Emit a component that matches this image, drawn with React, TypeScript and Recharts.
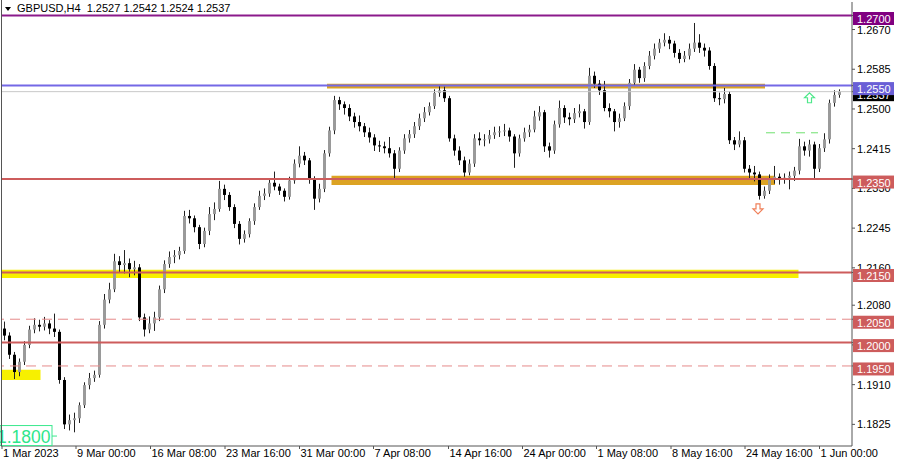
import React from 'react';
import {
  ComposedChart,
  Bar,
  XAxis,
  YAxis,
  ReferenceLine,
  ReferenceArea,
  ReferenceDot,
} from 'recharts';

// GBPUSD H4, one candle here ~ two H4 bars (open = previous close)
const firstOpen = 1.203;

const closes = [
  1.2015, 1.1974, 1.1937, 1.1959, 1.1995, 1.2028, 1.2038, 1.2034, 1.2041, 1.2030,
  1.2023, 1.1920, 1.1825, 1.1834, 1.1838, 1.1866, 1.1909, 1.1924, 1.1931, 1.2038,
  1.2092, 1.2114, 1.2174, 1.2166, 1.2170, 1.2157, 1.2161, 1.2054, 1.2028, 1.2041,
  1.2054, 1.2114, 1.2168, 1.2183, 1.2187, 1.2196, 1.2271, 1.2266, 1.2247, 1.2211,
  1.2239, 1.2275, 1.2286, 1.2329, 1.2316, 1.2290, 1.2254, 1.2222, 1.2232, 1.2260,
  1.2290, 1.2314, 1.2319, 1.2342, 1.2334, 1.2325, 1.2312, 1.2347, 1.2383, 1.2400,
  1.2390, 1.2351, 1.2308, 1.2329, 1.2405, 1.2454, 1.2519, 1.2510, 1.2502, 1.2484,
  1.2472, 1.2463, 1.2450, 1.2439, 1.2422, 1.2420, 1.2416, 1.2405, 1.2372, 1.2411,
  1.2437, 1.2446, 1.2463, 1.2480, 1.2493, 1.2506, 1.2534, 1.2540, 1.2523, 1.2437,
  1.2411, 1.2390, 1.2364, 1.2383, 1.2437, 1.2433, 1.2435, 1.2444, 1.2450, 1.2452,
  1.2454, 1.2441, 1.2405, 1.2437, 1.2450, 1.2456, 1.2484, 1.2493, 1.2420, 1.2411,
  1.2467, 1.2502, 1.2482, 1.2478, 1.2491, 1.2495, 1.2472, 1.2571, 1.2554, 1.2540,
  1.2502, 1.2495, 1.2472, 1.2480, 1.2506, 1.2556, 1.2584, 1.2566, 1.2592, 1.2614,
  1.2629, 1.2642, 1.2648, 1.2640, 1.2620, 1.2607, 1.2614, 1.2629, 1.2642, 1.2631,
  1.2625, 1.2592, 1.2523, 1.2521, 1.2532, 1.2433, 1.2424, 1.2433, 1.2372, 1.2364,
  1.2360, 1.2314, 1.2325, 1.2351, 1.2355, 1.2349, 1.2353, 1.2357, 1.2368, 1.2420,
  1.2411, 1.2424, 1.2372, 1.2416, 1.2435, 1.2513, 1.2530, 1.2537,
];

const highs = [
  1.2045, 1.2022, 1.1980, 1.1966, 1.2003, 1.2036, 1.2052, 1.2049, 1.2055, 1.2048,
  1.2062, 1.2028, 1.1926, 1.1846, 1.1850, 1.1872, 1.1915, 1.1935, 1.1940, 1.2046,
  1.2104, 1.2128, 1.2190, 1.2185, 1.2198, 1.2180, 1.2175, 1.2168, 1.2062, 1.2056,
  1.2066, 1.2122, 1.2176, 1.2195, 1.2198, 1.2205, 1.2282, 1.2284, 1.2272, 1.2252,
  1.2246, 1.2290, 1.2300, 1.2346, 1.2338, 1.2322, 1.2296, 1.2260, 1.2240, 1.2266,
  1.2298, 1.2325, 1.2330, 1.2352, 1.2366, 1.2340, 1.2330, 1.2355, 1.2392, 1.2420,
  1.2408, 1.2395, 1.2356, 1.2340, 1.2412, 1.2462, 1.2528, 1.2526, 1.2516, 1.2510,
  1.2492, 1.2486, 1.2470, 1.2460, 1.2446, 1.2432, 1.2430, 1.2440, 1.2412, 1.2418,
  1.2446, 1.2455, 1.2472, 1.2490, 1.2504, 1.2514, 1.2542, 1.2550, 1.2548, 1.2528,
  1.2445, 1.2420, 1.2398, 1.2392, 1.2446, 1.2450, 1.2446, 1.2455, 1.2462, 1.2463,
  1.2468, 1.2460, 1.2446, 1.2445, 1.2460, 1.2466, 1.2496, 1.2506, 1.2498, 1.2428,
  1.2475, 1.2518, 1.2508, 1.2492, 1.2502, 1.2510, 1.2500, 1.2588, 1.2580, 1.2562,
  1.2560, 1.2512, 1.2500, 1.2490, 1.2514, 1.2564, 1.2596, 1.2590, 1.2600, 1.2624,
  1.2640, 1.2650, 1.2662, 1.2656, 1.2646, 1.2628, 1.2624, 1.2640, 1.2684, 1.2660,
  1.2640, 1.2632, 1.2598, 1.2535, 1.2545, 1.2538, 1.2440, 1.2452, 1.2440, 1.2380,
  1.2378, 1.2366, 1.2334, 1.2360, 1.2378, 1.2362, 1.2362, 1.2366, 1.2376, 1.2436,
  1.2430, 1.2434, 1.2430, 1.2425, 1.2448, 1.2520, 1.2540, 1.2542,
];

const lows = [
  1.2005, 1.1965, 1.1922, 1.1928, 1.1952, 1.1988, 1.2020, 1.2024, 1.2026, 1.2018,
  1.2012, 1.1912, 1.1815, 1.1812, 1.1808, 1.1828, 1.1860, 1.1900, 1.1916, 1.1925,
  1.2030, 1.2084, 1.2108, 1.2150, 1.2148, 1.2140, 1.2144, 1.2046, 1.2013, 1.2020,
  1.2025, 1.2046, 1.2106, 1.2160, 1.2170, 1.2178, 1.2190, 1.2255, 1.2236, 1.2200,
  1.2204, 1.2230, 1.2262, 1.2280, 1.2305, 1.2282, 1.2245, 1.2210, 1.2214, 1.2225,
  1.2252, 1.2284, 1.2305, 1.2312, 1.2326, 1.2316, 1.2302, 1.2306, 1.2340, 1.2375,
  1.2380, 1.2340, 1.2284, 1.2300, 1.2322, 1.2398, 1.2446, 1.2498, 1.2488, 1.2474,
  1.2460, 1.2452, 1.2440, 1.2428, 1.2410, 1.2408, 1.2405, 1.2396, 1.2352, 1.2365,
  1.2404, 1.2428, 1.2438, 1.2455, 1.2472, 1.2486, 1.2500, 1.2526, 1.2515, 1.2430,
  1.2400, 1.2380, 1.2355, 1.2358, 1.2376, 1.2422, 1.2420, 1.2426, 1.2436, 1.2440,
  1.2442, 1.2430, 1.2374, 1.2398, 1.2430, 1.2440, 1.2450, 1.2475, 1.2408, 1.2396,
  1.2404, 1.2460, 1.2470, 1.2465, 1.2470, 1.2482, 1.2458, 1.2466, 1.2545, 1.2530,
  1.2495, 1.2482, 1.2452, 1.2460, 1.2474, 1.2498, 1.2550, 1.2556, 1.2558, 1.2585,
  1.2606, 1.2620, 1.2634, 1.2628, 1.2610, 1.2598, 1.2600, 1.2606, 1.2622, 1.2620,
  1.2612, 1.2584, 1.2515, 1.2508, 1.2512, 1.2425, 1.2412, 1.2418, 1.2364, 1.2352,
  1.2345, 1.2306, 1.2308, 1.2318, 1.2340, 1.2338, 1.2340, 1.2328, 1.2346, 1.2360,
  1.2400, 1.2398, 1.2348, 1.2365, 1.2408, 1.2426, 1.2505, 1.2524,
];

// time axis: label position in candle index units
const dateTicks = [-0.4, 14.4, 29.3, 44.2, 59.1, 73.9, 88.9, 103.7, 118.5, 133.4, 148.2, 163.1];
const dateLabels = [
  '1 Mar 2023', '9 Mar 00:00', '16 Mar 08:00', '23 Mar 16:00', '31 Mar 00:00', '7 Apr 08:00',
  '14 Apr 16:00', '24 Apr 00:00', '1 May 08:00', '8 May 16:00', '24 May 16:00', '1 Jun 00:00',
];
const priceTicks = [1.267, 1.2585, 1.25, 1.2415, 1.233, 1.2245, 1.216, 1.208, 1.1995, 1.191, 1.1825];

// horizontal levels drawn on the chart (tags sit on the price scale)
const levelPrices = [1.27, 1.2537, 1.255, 1.235, 1.215, 1.205, 1.2, 1.195];
const levelColors = ['#8b1a8b', '#c8c8c8', '#7468e6', '#cd5c5c', '#cd5c5c', '#e58a8a', '#cd5c5c', '#e58a8a'];
const levelTagColors = ['#800080', '#000000', '#6a5fd6', '#cd5c5c', '#cd5c5c', '#cd5c5c', '#cd5c5c', '#cd5c5c'];
const levelWidths = [2, 1, 2, 2, 2, 1, 2, 1];
const levelDashed = [false, false, false, false, false, true, false, true];

// zones [fromIdx, toIdx, lowPrice, highPrice]
const zoneBounds = [
  [64.6, 152.2, 1.2544, 1.2554],
  [65.5, 154.2, 1.2337, 1.2357],
  [-0.6, 158.9, 1.2138, 1.2156],
  [-0.6, 7.3, 1.192, 1.1942],
];
const zoneColors = ['#dca323', '#dca323', '#f7f000', '#f7f000'];

const FONT = '"Liberation Sans", Arial, sans-serif';

const data = closes.map((c, i) => ({
  t: i,
  open: i === 0 ? firstOpen : closes[i - 1],
  close: c,
  high: highs[i],
  low: lows[i],
  range: [lows[i], highs[i]],
}));

const Candle = (props: any) => {
  const { x, y, width, height, payload } = props;
  if (x == null || y == null) return null;
  const { open, close, high, low } = payload;
  const top = Math.min(y, y + height);
  const h = Math.abs(height);
  const k = high === low ? 0 : h / (high - low);
  const yO = top + (high - open) * k;
  const yC = top + (high - close) * k;
  const cx = Math.round(x + width / 2);
  const up = close >= open;
  const bt = Math.min(yO, yC);
  const bh = Math.max(1, Math.abs(yC - yO));
  return (
    <g>
      <line x1={cx + 0.5} x2={cx + 0.5} y1={top} y2={top + h} stroke="#222" strokeWidth={1} />
      <rect x={cx - 1} y={bt} width={3} height={bh} fill={up ? '#9a9a9a' : '#000'} />
    </g>
  );
};

const DateTick = (props: any) => {
  const { x, y, index } = props;
  return (
    <text x={x + 1} y={y + 6} fontSize={11} fontFamily={FONT} fill="#000" textAnchor="start">
      {dateLabels[index]}
    </text>
  );
};

// plain price labels first, then the coloured level tags on top of them
const PriceTick = (props: any) => {
  const { x, y, payload, index } = props;
  const v = payload.value as number;
  const li = index - priceTicks.length;
  if (li < 0) {
    return (
      <text x={x} y={y + 4} fontSize={11} fontFamily={FONT} fill="#000" textAnchor="start">
        {v.toFixed(4)}
      </text>
    );
  }
  return (
    <g>
      <rect x={x - 4} y={y - 3.5} width={41} height={13} fill={levelTagColors[li]} />
      <text x={x} y={y + 7.5} fontSize={11} fontFamily={FONT} fill="#fff" textAnchor="start">
        {v.toFixed(4)}
      </text>
    </g>
  );
};

const Arrow = ({ cx, cy, dir, color }: any) => {
  if (cx == null) return null;
  const s = dir === 'up' ? -1 : 1;
  const d = `M ${cx - 2} ${cy - 5 * s} L ${cx + 2} ${cy - 5 * s} L ${cx + 2} ${cy} L ${cx + 5} ${cy} L ${cx} ${cy + 5 * s} L ${cx - 5} ${cy} L ${cx - 2} ${cy} Z`;
  return <path d={d} fill="#fff" stroke={color} strokeWidth={1.2} />;
};

const StartLabel = ({ cx, cy }: any) => {
  if (cx == null) return null;
  return (
    <g>
      <rect x={cx - 4} y={cy - 10.5} width={52} height={20} fill="#fff" stroke="#3be88e" strokeWidth={1} />
      <line x1={cx + 48} x2={cx + 53} y1={cy} y2={cy} stroke="#3be88e" />
      <text x={cx - 7} y={cy + 6.5} fontSize={17.5} fontFamily={FONT} fill="#2ee68a">
        1.1800
      </text>
    </g>
  );
};

export default function App() {
  return (
    <div style={{ position: 'fixed', left: 0, top: 0, width: 900, height: 465, background: '#fff' }}>
      <ComposedChart width={900} height={465} data={data} margin={{ top: 2, right: 0, bottom: 0, left: 1 }}>
        <XAxis
          dataKey="t"
          type="number"
          height={19}
          domain={[-0.6, 169.6]}
          allowDataOverflow
          ticks={dateTicks}
          interval={0}
          tick={<DateTick />}
          tickSize={3}
          tickLine={{ stroke: '#555' }}
          axisLine={{ stroke: '#555' }}
        />
        <YAxis
          orientation="right"
          width={48}
          domain={[1.17787, 1.27289]}
          allowDataOverflow
          ticks={[...priceTicks, ...levelPrices]}
          interval={0}
          tick={<PriceTick />}
          tickSize={3}
          tickMargin={2}
          tickLine={{ stroke: '#555' }}
          axisLine={{ stroke: '#555' }}
        />
        {zoneBounds.map((z, i) => (
          <ReferenceArea
            key={'z' + i}
            x1={z[0]}
            x2={z[1]}
            y1={z[2]}
            y2={z[3]}
            fill={zoneColors[i]}
            fillOpacity={1}
            stroke="none"
            ifOverflow="hidden"
          />
        ))}
        <Bar dataKey="range" barSize={3} shape={<Candle />} isAnimationActive={false} />
        {levelPrices.map((p, i) => (
          <ReferenceLine
            key={'l' + i}
            y={p}
            stroke={levelColors[i]}
            strokeWidth={levelWidths[i]}
            strokeDasharray={levelDashed[i] ? '10 6' : undefined}
          />
        ))}
        <ReferenceLine
          segment={[{ x: 152.4, y: 1.2449 }, { x: 162.8, y: 1.2449 }]}
          stroke="#6ee06e"
          strokeDasharray="9 6"
        />
        <ReferenceDot x={150.8} y={1.2286} r={5} shape={<Arrow dir="down" color="#f0805a" />} />
        <ReferenceDot x={161.1} y={1.2524} r={5} shape={<Arrow dir="up" color="#4ee88a" />} />
        <ReferenceDot x={0} y={1.18} r={5} shape={<StartLabel />} />
      </ComposedChart>
      <svg
        width={900}
        height={465}
        style={{ position: 'absolute', left: 0, top: 0, pointerEvents: 'none' }}
      >
        <line x1={1.5} x2={1.5} y1={0} y2={446} stroke="#555" />
        <path d="M 5 7 L 11 7 L 8 11 Z" fill="#000" />
      </svg>
      <div
        style={{
          position: 'absolute',
          left: 17,
          top: 2,
          fontFamily: FONT,
          fontSize: 11,
          whiteSpace: 'pre',
          color: '#000',
        }}
      >
        {'GBPUSD,H4  1.2527 1.2542 1.2524 1.2537'}
      </div>
    </div>
  );
}
